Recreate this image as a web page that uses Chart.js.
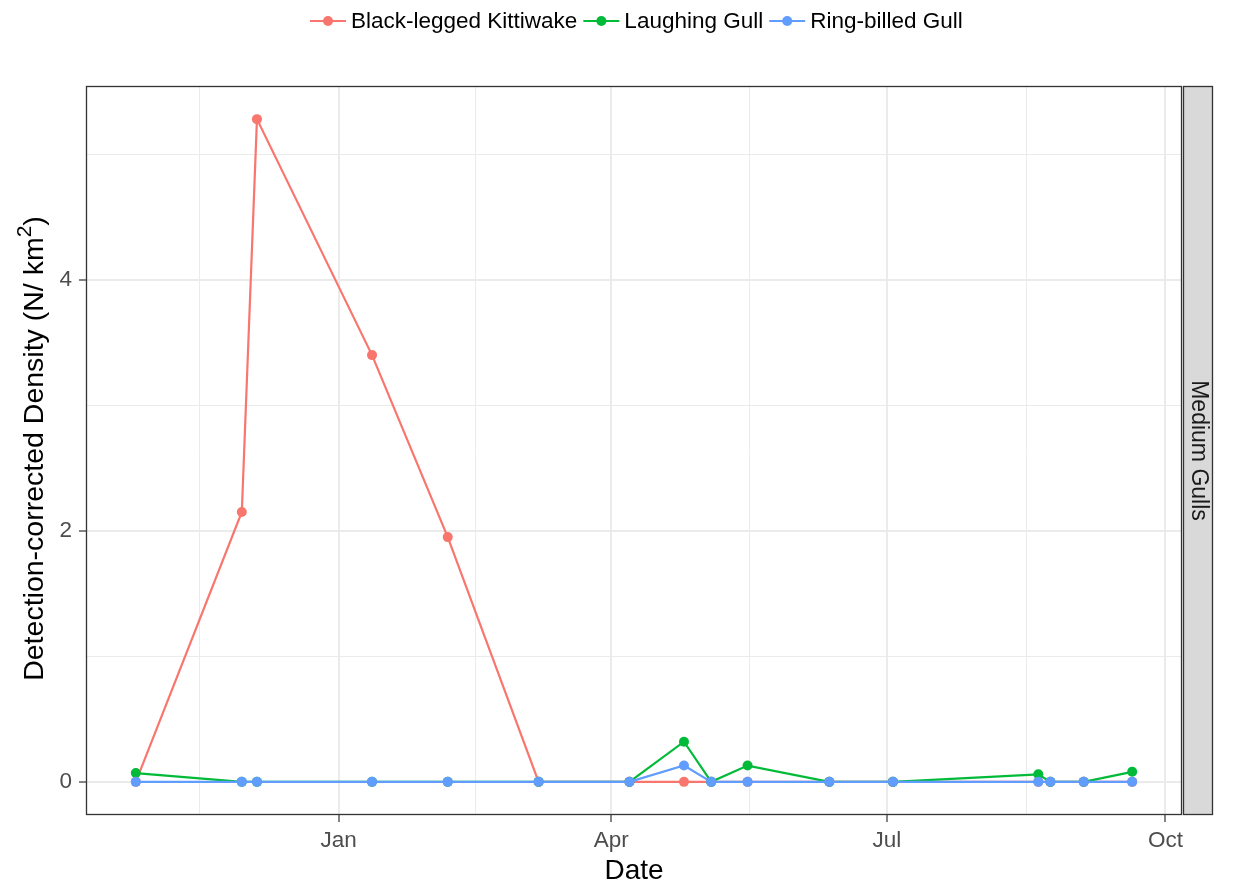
<!DOCTYPE html>
<html>
<head>
<meta charset="utf-8">
<script src="https://cdn.jsdelivr.net/npm/chart.js@4.4.1/dist/chart.umd.min.js"></script>
<style>
  html, body { margin: 0; padding: 0; background: #fff; }
  canvas { display: block; }
</style>
</head>
<body>
<canvas id="chart" width="1233" height="888"></canvas>
<script>
// survey dates and densities (N / km2)
const surveyDates = ['2014-10-26', '2014-11-30', '2014-12-05', '2015-01-12', '2015-02-06', '2015-03-08',
  '2015-04-07', '2015-04-25', '2015-05-04', '2015-05-16', '2015-06-12', '2015-07-03',
  '2015-08-20', '2015-08-24', '2015-09-04', '2015-09-20'];
const kittiwake      = [0, 2.15, 5.28, 3.40, 1.95, 0, 0, 0, 0, 0, 0, 0, 0, 0, 0, 0];
const laughingGull   = [0.07, 0, 0, 0, 0, 0, 0, 0.32, 0, 0.13, 0, 0, 0.06, 0, 0, 0.08];
const ringBilledGull = [0, 0, 0, 0, 0, 0, 0, 0.13, 0, 0, 0, 0, 0, 0, 0, 0];

const seriesNames  = ['Black-legged Kittiwake', 'Laughing Gull', 'Ring-billed Gull'];
const seriesColors = ['#F8766D', '#00BA38', '#619CFF'];

const monthBreaks = ['2014-10-01', '2015-01-01', '2015-04-01', '2015-07-01', '2015-10-01'];
const monthLabels = ['Oct', 'Jan', 'Apr', 'Jul', 'Oct'];
const yBreaks = [0, 2, 4, 6];

const facetLabel = 'Medium Gulls';
const FONT = '"Liberation Sans", Arial, sans-serif';

// dates -> days from 1 Jan 2015
const DAY = 86400000;
const origin = Date.UTC(2015, 0, 1);
const toDay = s => (Date.parse(s) - origin) / DAY;

const xDays = surveyDates.map(toDay);
const xSpan = Math.max(...xDays) - Math.min(...xDays);
const xMin = Math.min(...xDays) - xSpan * 0.05;
const xMax = Math.max(...xDays) + xSpan * 0.05;
const allY = kittiwake.concat(laughingGull, ringBilledGull);
const ySpan = Math.max(...allY) - Math.min(...allY);
const yMin = Math.min(...allY) - ySpan * 0.05;
const yMax = Math.max(...allY) + ySpan * 0.05;

// major + minor (midpoint) breaks, like ggplot
function withMinors(majors, labels) {
  const out = [];
  majors.forEach((v, i) => {
    out.push({ value: v, isMajor: true, text: labels[i] });
    if (i < majors.length - 1) out.push({ value: (v + majors[i + 1]) / 2, isMajor: false, text: '' });
  });
  return out;
}
const xTickList = withMinors(monthBreaks.map(toDay), monthLabels);
const yTickList = withMinors(yBreaks, yBreaks.map(String));

function pts(vals) {
  return xDays.map((d, i) => ({ x: d, y: vals[i] }));
}
function series(i, vals, order) {
  return {
    label: seriesNames[i],
    data: pts(vals),
    borderColor: seriesColors[i],
    backgroundColor: seriesColors[i],
    borderWidth: 2.2,
    pointRadius: 5,
    pointBorderWidth: 0,
    tension: 0,
    order: order
  };
}

const gridOpts = {
  color: '#EBEBEB',
  lineWidth: c => c.tick && c.tick.isMajor ? 2 : 1,
  tickColor: c => c.tick && c.tick.isMajor ? '#333333' : 'rgba(0,0,0,0)',
  tickWidth: 1.2,
  tickLength: 7
};

const decor = {
  id: 'decor',
  afterDraw(chart) {
    const { ctx, chartArea: a } = chart;
    ctx.save();

    // panel border
    ctx.strokeStyle = '#333333';
    ctx.lineWidth = 1.3;
    ctx.strokeRect(a.left + 0.5, a.top + 0.5, a.right - a.left - 1, a.bottom - a.top - 1);

    // facet strip
    const sx = a.right + 1, sw = 30;
    ctx.fillStyle = '#D9D9D9';
    ctx.fillRect(sx, a.top, sw, a.bottom - a.top);
    ctx.strokeRect(sx + 0.5, a.top + 0.5, sw - 1, a.bottom - a.top - 1);
    ctx.save();
    ctx.translate(sx + sw / 2, (a.top + a.bottom) / 2);
    ctx.rotate(Math.PI / 2);
    ctx.fillStyle = '#1A1A1A';
    ctx.font = '23px ' + FONT;
    ctx.textAlign = 'center';
    ctx.textBaseline = 'middle';
    ctx.fillText(facetLabel, 0, 0);
    ctx.restore();

    // legend
    ctx.font = '22.5px ' + FONT;
    ctx.textBaseline = 'middle';
    ctx.textAlign = 'left';
    let lx = 310;
    const ly = 21;
    seriesNames.forEach((name, i) => {
      ctx.strokeStyle = seriesColors[i];
      ctx.fillStyle = seriesColors[i];
      ctx.lineWidth = 2.2;
      ctx.beginPath();
      ctx.moveTo(lx, ly);
      ctx.lineTo(lx + 36, ly);
      ctx.stroke();
      ctx.beginPath();
      ctx.arc(lx + 18, ly, 5, 0, Math.PI * 2);
      ctx.fill();
      ctx.fillStyle = '#000';
      ctx.fillText(name, lx + 41, ly + 1);
      lx += 41 + ctx.measureText(name).width + 6;
    });

    // x title
    ctx.fillStyle = '#000';
    ctx.font = '28px ' + FONT;
    ctx.textAlign = 'center';
    ctx.textBaseline = 'alphabetic';
    ctx.fillText('Date', (a.left + a.right) / 2, 879);

    // y title with superscript
    const main = 'Detection-corrected Density (N/ km', sup = '2', tail = ')';
    ctx.font = '28.5px ' + FONT;
    const w1 = ctx.measureText(main).width, w3 = ctx.measureText(tail).width;
    ctx.font = '21px ' + FONT;
    const w2 = ctx.measureText(sup).width;
    const total = w1 + w2 + w3;
    ctx.save();
    ctx.translate(43, (a.top + a.bottom) / 2 - 2);
    ctx.rotate(-Math.PI / 2);
    ctx.textAlign = 'left';
    let tx = -total / 2;
    ctx.font = '28.5px ' + FONT;
    ctx.fillText(main, tx, 0);
    tx += w1;
    ctx.font = '21px ' + FONT;
    ctx.fillText(sup, tx, -12);
    tx += w2;
    ctx.font = '28.5px ' + FONT;
    ctx.fillText(tail, tx, 0);
    ctx.restore();

    ctx.restore();
  }
};

new Chart(document.getElementById('chart'), {
  type: 'line',
  data: {
    datasets: [
      series(0, kittiwake, 3),
      series(1, laughingGull, 2),
      series(2, ringBilledGull, 1)
    ]
  },
  options: {
    responsive: false,
    animation: false,
    devicePixelRatio: 1,
    events: [],
    layout: { padding: { top: 86, right: 51, bottom: 0, left: 0 } },
    plugins: { legend: { display: false }, tooltip: { enabled: false } },
    scales: {
      x: {
        type: 'linear',
        min: xMin,
        max: xMax,
        afterBuildTicks: s => { s.ticks = xTickList.filter(t => t.value >= xMin && t.value <= xMax).map(t => ({ ...t })); },
        afterFit: s => { s.height = 73; },
        grid: gridOpts,
        border: { display: false },
        ticks: {
          autoSkip: false,
          maxRotation: 0,
          padding: 5,
          color: '#4D4D4D',
          font: { family: FONT, size: 22.5 },
          callback: (v, i, ticks) => ticks[i].text
        }
      },
      y: {
        type: 'linear',
        min: yMin,
        max: yMax,
        afterBuildTicks: s => { s.ticks = yTickList.filter(t => t.value >= yMin && t.value <= yMax).map(t => ({ ...t })); },
        afterFit: s => { s.width = 86; },
        grid: gridOpts,
        border: { display: false },
        ticks: {
          autoSkip: false,
          padding: 7,
          color: '#4D4D4D',
          font: { family: FONT, size: 22.5 },
          callback: (v, i, ticks) => ticks[i].text
        }
      }
    }
  },
  plugins: [decor]
});
</script>
</body>
</html>
